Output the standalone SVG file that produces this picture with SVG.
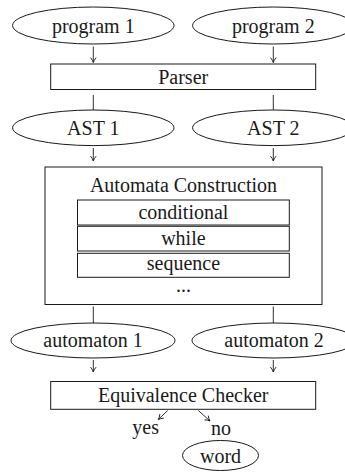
<svg xmlns="http://www.w3.org/2000/svg" width="345" height="472" viewBox="0 0 345 472">
<defs>
<marker id="arr" viewBox="0 0 10 10" refX="9" refY="5" markerWidth="7" markerHeight="7" markerUnits="userSpaceOnUse" orient="auto">
<path d="M2,1 Q6,4.2 9,5 Q6,5.8 2,9" fill="none" stroke="#1a1a1a" stroke-width="1.3"/>
</marker>
</defs>
<style>
.s{fill:#fff;stroke:#1a1a1a;stroke-width:1}
.t{font-size:20px;fill:#1a1a1a;text-anchor:middle}
.c{stroke:#1a1a1a;stroke-width:0.9;fill:none}
.a{marker-end:url(#arr)}
</style>
<rect width="345" height="472" fill="#fff"/>
<g font-family="'Liberation Serif', 'DejaVu Serif', serif">
<g id="program1"><ellipse class="s" cx="93.3" cy="25.5" rx="80.7" ry="18.5"/><text class="t" x="93.3" y="33">program 1</text></g>
<g id="program2"><ellipse class="s" cx="273.3" cy="25.5" rx="80.7" ry="18.5"/><text class="t" x="273.3" y="33">program 2</text></g>
<g id="parser"><rect class="s" x="50.7" y="64" width="265" height="25.5"/><text class="t" x="183.2" y="83.5">Parser</text></g>
<g id="ast1"><ellipse class="s" cx="93.3" cy="127.8" rx="80.7" ry="17.8"/><text class="t" x="93.3" y="135">AST 1</text></g>
<g id="ast2"><ellipse class="s" cx="273.3" cy="127.8" rx="80.7" ry="17.8"/><text class="t" x="273.3" y="135">AST 2</text></g>
<g id="automata">
<rect class="s" x="45" y="167" width="277" height="137.5"/>
<text class="t" x="183.5" y="192">Automata Construction</text>
<g id="conditional"><rect class="s" x="77.5" y="200" width="211.8" height="25"/><text class="t" x="183.4" y="219.3">conditional</text></g>
<g id="while"><rect class="s" x="77.5" y="226.3" width="211.8" height="24.7"/><text class="t" x="183.4" y="245.3">while</text></g>
<g id="sequence"><rect class="s" x="77.5" y="253.3" width="211.8" height="24"/><text class="t" x="183.4" y="269.5">sequence</text></g>
<text class="t" x="183.4" y="292">...</text>
</g>
<g id="automaton1"><ellipse class="s" cx="93" cy="340.5" rx="82" ry="17.5"/><text class="t" x="93" y="346.5">automaton 1</text></g>
<g id="automaton2"><ellipse class="s" cx="274" cy="340.5" rx="82" ry="17.5"/><text class="t" x="274" y="346.5">automaton 2</text></g>
<g id="checker"><rect class="s" x="50.7" y="381.5" width="265" height="27.8"/><text class="t" x="183.2" y="401.5">Equivalence Checker</text></g>
<g id="yes"><text class="t" x="145.7" y="433.5">yes</text></g>
<g id="no"><text class="t" x="221" y="434.5">no</text></g>
<g id="word"><ellipse class="s" cx="220.5" cy="455.5" rx="38" ry="15"/><text class="t" x="220.5" y="462.5">word</text></g>
</g>
<g id="connectors">
<line class="c a" x1="93.3" y1="46.5" x2="93.3" y2="62.5"/>
<line class="c a" x1="273.3" y1="46.5" x2="273.3" y2="62.5"/>
<line class="c" x1="93.3" y1="95" x2="93.3" y2="110"/>
<line class="c" x1="273.3" y1="95" x2="273.3" y2="110"/>
<line class="c a" x1="93.3" y1="148" x2="93.3" y2="161"/>
<line class="c a" x1="273.3" y1="148" x2="273.3" y2="161"/>
<line class="c" x1="93.3" y1="306.5" x2="93.3" y2="323"/>
<line class="c" x1="273.3" y1="306.5" x2="273.3" y2="323"/>
<line class="c a" x1="93.3" y1="360" x2="93.3" y2="372"/>
<line class="c a" x1="273.3" y1="360" x2="273.3" y2="372"/>
<line class="c a" x1="167.7" y1="410.5" x2="158.3" y2="419.5"/>
<line class="c a" x1="198.3" y1="410.5" x2="210" y2="421"/>
</g>
</svg>
